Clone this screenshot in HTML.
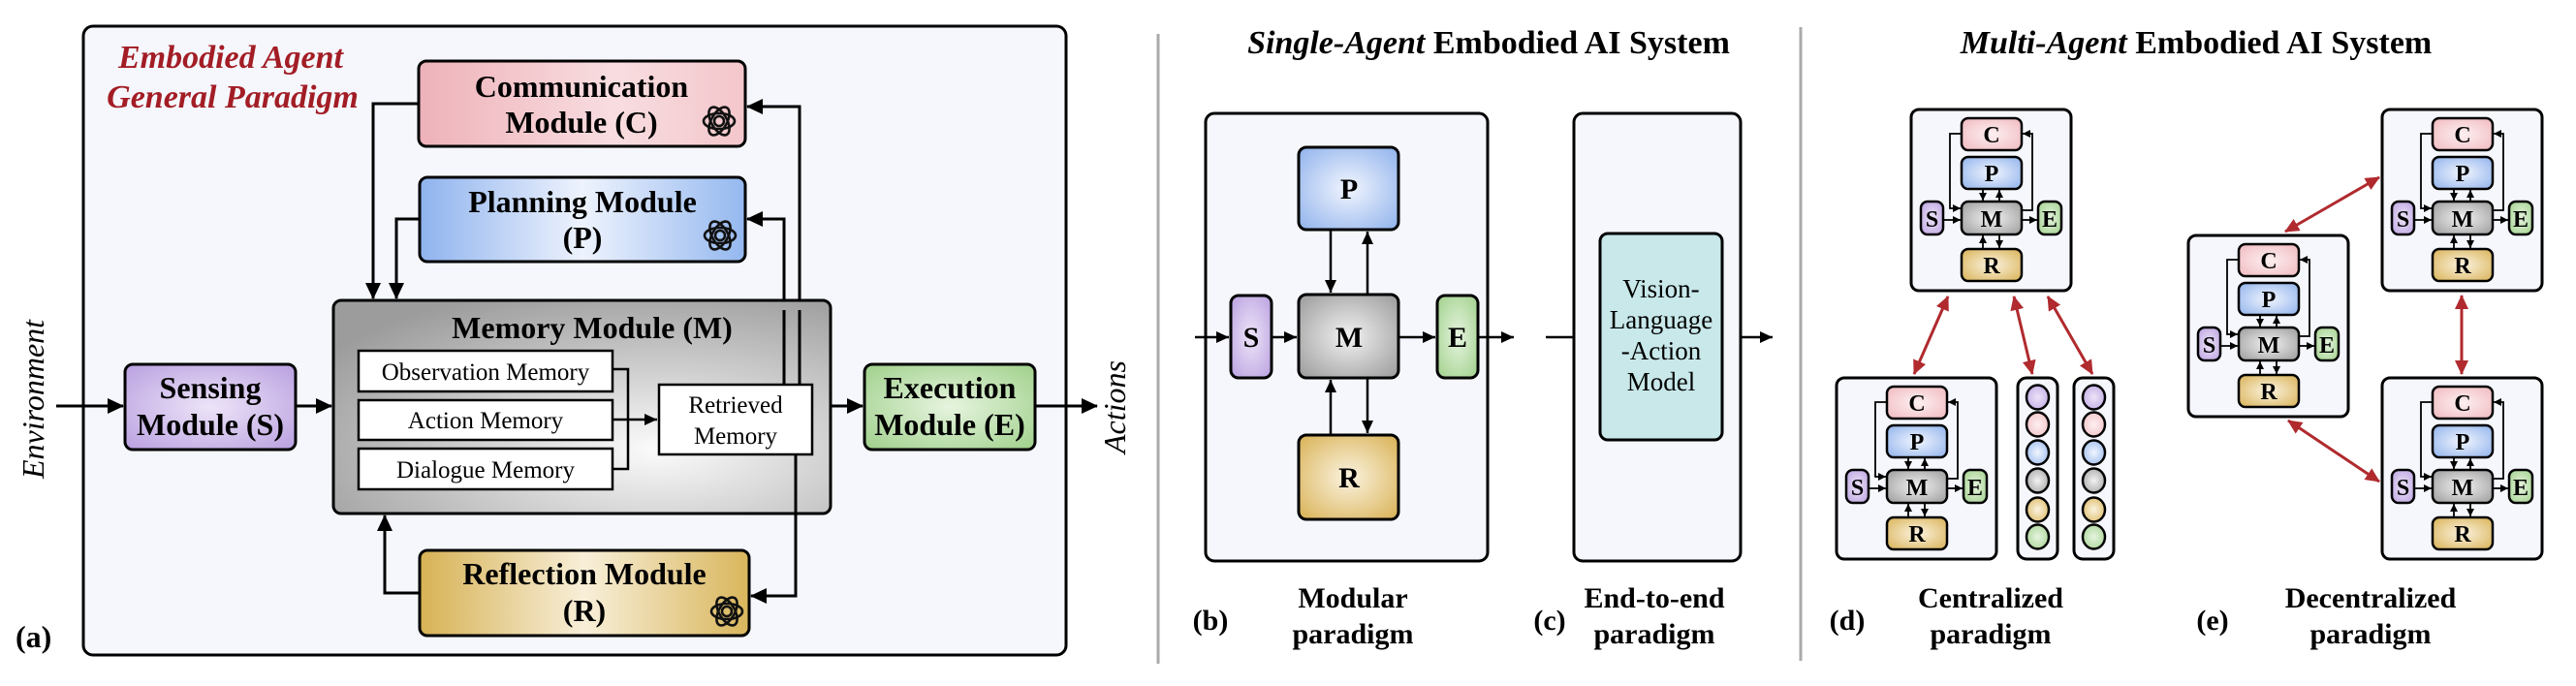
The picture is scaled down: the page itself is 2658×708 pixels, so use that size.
<!DOCTYPE html>
<html><head><meta charset="utf-8"><style>
html,body{margin:0;padding:0;background:#fff;}
svg{display:block;font-family:"Liberation Serif","Times New Roman",serif;}
text{font-family:"Liberation Serif","Times New Roman",serif;}
</style></head><body>
<svg width="2658" height="708" viewBox="0 0 2658 708" xmlns="http://www.w3.org/2000/svg" font-family="Liberation Serif, serif">
<defs>
<marker id="ah" markerUnits="userSpaceOnUse" markerWidth="18" markerHeight="18" refX="16" refY="9" orient="auto"><path d="M0,1 L17,9 L0,17 Z" fill="#000"/></marker>
<marker id="ab" markerUnits="userSpaceOnUse" markerWidth="14" markerHeight="14" refX="13" refY="7" orient="auto"><path d="M0,1 L13,7 L0,13 Z" fill="#000"/></marker>
<marker id="am" markerUnits="userSpaceOnUse" markerWidth="9" markerHeight="9" refX="8" refY="4.5" orient="auto"><path d="M0,0.5 L8,4.5 L0,8.5 Z" fill="#000"/></marker>
<marker id="ar" markerUnits="userSpaceOnUse" markerWidth="16" markerHeight="16" refX="14" refY="8" orient="auto-start-reverse"><path d="M0,1 L15,8 L0,15 Z" fill="#b02a2e"/></marker>
<linearGradient id="gC" x1="0" x2="1"><stop offset="0" stop-color="#eeb2b9"/><stop offset="0.6" stop-color="#f8dde0"/><stop offset="1" stop-color="#f3c6cb"/></linearGradient>
<linearGradient id="gP" x1="0" x2="1"><stop offset="0" stop-color="#8fb3ee"/><stop offset="0.5" stop-color="#eef3fd"/><stop offset="1" stop-color="#94b8ef"/></linearGradient>
<linearGradient id="gR" x1="0" x2="1"><stop offset="0" stop-color="#d7b255"/><stop offset="0.5" stop-color="#f8efd9"/><stop offset="1" stop-color="#d9b65c"/></linearGradient>
<radialGradient id="gM" cx="0.65" cy="0.7" r="0.8"><stop offset="0" stop-color="#fbfbfb"/><stop offset="1" stop-color="#9c9c9c"/></radialGradient>
<radialGradient id="gS" cx="0.5" cy="0.5" r="0.7"><stop offset="0" stop-color="#ede4f8"/><stop offset="1" stop-color="#b9a0e0"/></radialGradient>
<radialGradient id="gE" cx="0.5" cy="0.5" r="0.7"><stop offset="0" stop-color="#e6f4df"/><stop offset="1" stop-color="#9fd08a"/></radialGradient>
<radialGradient id="rC" cx="0.5" cy="0.5" r="0.7"><stop offset="0" stop-color="#fdf0f1"/><stop offset="1" stop-color="#f0b9bf"/></radialGradient>
<radialGradient id="rP" cx="0.5" cy="0.5" r="0.7"><stop offset="0" stop-color="#f1f5fe"/><stop offset="1" stop-color="#8fb2ec"/></radialGradient>
<radialGradient id="rM" cx="0.5" cy="0.5" r="0.7"><stop offset="0" stop-color="#f2f2f2"/><stop offset="1" stop-color="#9a9a9a"/></radialGradient>
<radialGradient id="rR" cx="0.5" cy="0.5" r="0.7"><stop offset="0" stop-color="#fbf3e0"/><stop offset="1" stop-color="#d8b154"/></radialGradient>
</defs>

<!-- ===== Panel (a) ===== -->
<rect x="86" y="27" width="1014" height="649" rx="10" fill="#f5f7fd" stroke="#000" stroke-width="3"/>
<text x="238" y="70" font-size="34" font-weight="bold" font-style="italic" fill="#a31d25" text-anchor="middle">Embodied Agent</text>
<text x="240" y="111" font-size="34" font-weight="bold" font-style="italic" fill="#a31d25" text-anchor="middle">General Paradigm</text>

<g stroke="#000" stroke-width="3" fill="none">
<path d="M432,107 H385 V308" marker-end="url(#ah)"/>
<path d="M433,226 H409 V308" marker-end="url(#ah)"/>
<path d="M825,397 V110 H771" marker-end="url(#ah)"/>
<path d="M809,397 V226 H771" marker-end="url(#ah)"/>
<path d="M821,469 V615 H775" marker-end="url(#ah)"/>
<path d="M433,612 H397 V532" marker-end="url(#ah)"/>
<path d="M58,419 H127" marker-end="url(#ah)"/>
<path d="M305,419 H342" marker-end="url(#ah)"/>
<path d="M857,419 H890" marker-end="url(#ah)"/>
<path d="M1068,419 H1132" marker-end="url(#ah)"/>
</g>

<rect x="432" y="63" width="337" height="88" rx="8" fill="url(#gC)" stroke="#000" stroke-width="3"/>
<text x="600" y="100" font-size="32" font-weight="bold" text-anchor="middle">Communication</text>
<text x="600" y="137" font-size="32" font-weight="bold" text-anchor="middle">Module (C)</text>
<rect x="433" y="183" width="336" height="87" rx="8" fill="url(#gP)" stroke="#000" stroke-width="3"/>
<text x="601" y="219" font-size="32" font-weight="bold" text-anchor="middle">Planning Module</text>
<text x="601" y="256" font-size="32" font-weight="bold" text-anchor="middle">(P)</text>
<rect x="433" y="568" width="340" height="88" rx="8" fill="url(#gR)" stroke="#000" stroke-width="3"/>
<text x="603" y="603" font-size="32" font-weight="bold" text-anchor="middle">Reflection Module</text>
<text x="603" y="641" font-size="32" font-weight="bold" text-anchor="middle">(R)</text>

<g fill="none" stroke="#111" stroke-width="2.6">
<g transform="translate(742,125)"><ellipse rx="16" ry="8"/><ellipse rx="16" ry="8" transform="rotate(60)"/><ellipse rx="16" ry="8" transform="rotate(120)"/><circle r="5"/></g>
<g transform="translate(743,243)"><ellipse rx="16" ry="8"/><ellipse rx="16" ry="8" transform="rotate(60)"/><ellipse rx="16" ry="8" transform="rotate(120)"/><circle r="5"/></g>
<g transform="translate(750,631)"><ellipse rx="16" ry="8"/><ellipse rx="16" ry="8" transform="rotate(60)"/><ellipse rx="16" ry="8" transform="rotate(120)"/><circle r="5"/></g>
</g>

<rect x="344" y="310" width="513" height="220" rx="8" fill="url(#gM)" stroke="#000" stroke-width="3"/>
<text x="611" y="349" font-size="32" font-weight="bold" text-anchor="middle">Memory Module (M)</text>
<g stroke="#000" stroke-width="2.5" fill="#fff">
<rect x="370" y="362" width="262" height="42"/>
<rect x="370" y="413" width="262" height="41"/>
<rect x="370" y="463" width="262" height="42"/>
<rect x="680" y="397" width="158" height="72"/>
</g>
<text x="501" y="392" font-size="25" text-anchor="middle">Observation Memory</text>
<text x="501" y="442" font-size="25" text-anchor="middle">Action Memory</text>
<text x="501" y="493" font-size="25" text-anchor="middle">Dialogue Memory</text>
<text x="759" y="426" font-size="25" text-anchor="middle">Retrieved</text>
<text x="759" y="458" font-size="25" text-anchor="middle">Memory</text>
<g stroke="#000" stroke-width="2.5" fill="none">
<path d="M632,381 H648 V484 H632"/>
<path d="M632,433 H678" marker-end="url(#ab)"/>
</g>
<path d="M825,397 V320" stroke="#000" stroke-width="3"/>
<path d="M809,397 V320" stroke="#000" stroke-width="3"/>
<path d="M821,469 V530" stroke="#000" stroke-width="3"/>

<rect x="129" y="376" width="176" height="88" rx="8" fill="url(#gS)" stroke="#000" stroke-width="3"/>
<text x="217" y="411" font-size="32" font-weight="bold" text-anchor="middle">Sensing</text>
<text x="217" y="449" font-size="32" font-weight="bold" text-anchor="middle">Module (S)</text>
<rect x="892" y="376" width="176" height="88" rx="8" fill="url(#gE)" stroke="#000" stroke-width="3"/>
<text x="980" y="411" font-size="32" font-weight="bold" text-anchor="middle">Execution</text>
<text x="980" y="449" font-size="32" font-weight="bold" text-anchor="middle">Module (E)</text>

<text transform="translate(45,412) rotate(-90)" font-size="32" font-style="italic" text-anchor="middle">Environment</text>
<text transform="translate(1161,420) rotate(-90)" font-size="32" font-style="italic" text-anchor="middle">Actions</text>
<text x="16" y="668" font-size="32" font-weight="bold">(a)</text>

<line x1="1195" y1="35" x2="1195" y2="685" stroke="#aaa" stroke-width="3"/>
<line x1="1858" y1="28" x2="1858" y2="682" stroke="#aaa" stroke-width="3"/>

<!-- ===== Single agent ===== -->
<text x="1536" y="55" font-size="34" font-weight="bold" text-anchor="middle"><tspan font-style="italic">Single-Agent</tspan> Embodied AI System</text>
<rect x="1244" y="117" width="291" height="462" rx="9" fill="#f5f7fd" stroke="#000" stroke-width="3"/>
<g stroke="#000" stroke-width="2.5" fill="none">
<path d="M1373,237 V302" marker-end="url(#ab)"/>
<path d="M1411,304 V239" marker-end="url(#ab)"/>
<path d="M1373,449 V392" marker-end="url(#ab)"/>
<path d="M1411,390 V447" marker-end="url(#ab)"/>
<path d="M1233,348 H1268" marker-end="url(#ab)"/>
<path d="M1312,348 H1338" marker-end="url(#ab)"/>
<path d="M1443,348 H1481" marker-end="url(#ab)"/>
<path d="M1525,348 H1562" marker-end="url(#ab)"/>
<path d="M1595,348 H1649" marker-end="url(#ab)"/>
<path d="M1777,348 H1829" marker-end="url(#ab)"/>
</g>
<rect x="1340" y="152" width="103" height="85" rx="8" fill="url(#rP)" stroke="#000" stroke-width="3"/>
<rect x="1340" y="304" width="103" height="86" rx="8" fill="url(#rM)" stroke="#000" stroke-width="3"/>
<rect x="1340" y="449" width="103" height="87" rx="8" fill="url(#rR)" stroke="#000" stroke-width="3"/>
<rect x="1270" y="305" width="42" height="85" rx="8" fill="url(#gS)" stroke="#000" stroke-width="3"/>
<rect x="1483" y="305" width="42" height="85" rx="8" fill="url(#gE)" stroke="#000" stroke-width="3"/>
<g font-size="30" font-weight="bold" text-anchor="middle">
<text x="1392" y="205">P</text><text x="1392" y="358">M</text><text x="1392" y="503">R</text>
<text x="1291" y="358">S</text><text x="1504" y="358">E</text>
</g>
<rect x="1624" y="117" width="172" height="462" rx="9" fill="#f5f7fd" stroke="#000" stroke-width="3"/>
<rect x="1651" y="241" width="126" height="213" rx="8" fill="#c8e8ea" stroke="#000" stroke-width="3"/>
<g font-size="27" text-anchor="middle">
<text x="1714" y="307">Vision-</text><text x="1714" y="339">Language</text><text x="1714" y="371">-Action</text><text x="1714" y="403">Model</text>
</g>
<g font-size="30" font-weight="bold" text-anchor="middle">
<text x="1396" y="627">Modular</text><text x="1396" y="664">paradigm</text>
<text x="1707" y="627">End-to-end</text><text x="1707" y="664">paradigm</text>
<text x="1249" y="650">(b)</text><text x="1599" y="650">(c)</text>
<text x="2054" y="627">Centralized</text><text x="2054" y="664">paradigm</text>
<text x="2446" y="627">Decentralized</text><text x="2446" y="664">paradigm</text>
<text x="1906" y="650">(d)</text><text x="2283" y="650">(e)</text>
</g>

<!-- ===== Multi agent ===== -->
<text x="2266" y="55" font-size="34" font-weight="bold" text-anchor="middle"><tspan font-style="italic">Multi-Agent</tspan> Embodied AI System</text>

<g transform="translate(1972,113)">
<rect x="0" y="0" width="165" height="187" rx="8" fill="#f5f7fd" stroke="#000" stroke-width="3"/>
<g stroke="#000" stroke-width="1.8" fill="none">
<path d="M52,25 H40 V102 H51" marker-end="url(#am)"/>
<path d="M114,104 H125 V25 H115" marker-end="url(#am)"/>
<path d="M74,82 V94" marker-end="url(#am)"/><path d="M91,95 V83" marker-end="url(#am)"/>
<path d="M74,144 V130" marker-end="url(#am)"/><path d="M91,129 V143" marker-end="url(#am)"/>
<path d="M33,114 H51" marker-end="url(#am)"/><path d="M114,114 H130" marker-end="url(#am)"/>
</g>
<g stroke="#000" stroke-width="2.5">
<rect x="52" y="9" width="62" height="33" rx="7" fill="url(#rC)"/>
<rect x="52" y="49" width="62" height="33" rx="7" fill="url(#rP)"/>
<rect x="52" y="95" width="62" height="34" rx="7" fill="url(#rM)"/>
<rect x="52" y="144" width="62" height="33" rx="7" fill="url(#rR)"/>
<rect x="10" y="95" width="23" height="34" rx="7" fill="url(#gS)"/>
<rect x="131" y="95" width="24" height="34" rx="7" fill="url(#gE)"/>
</g>
<g font-size="24" font-weight="bold" text-anchor="middle">
<text x="83" y="34">C</text><text x="83" y="74">P</text><text x="83" y="121">M</text><text x="83" y="169">R</text>
<text x="21.5" y="121">S</text><text x="143" y="121">E</text>
</g>
</g>

<g transform="translate(1895,390)">
<rect x="0" y="0" width="165" height="187" rx="8" fill="#f5f7fd" stroke="#000" stroke-width="3"/>
<g stroke="#000" stroke-width="1.8" fill="none">
<path d="M52,25 H40 V102 H51" marker-end="url(#am)"/>
<path d="M114,104 H125 V25 H115" marker-end="url(#am)"/>
<path d="M74,82 V94" marker-end="url(#am)"/><path d="M91,95 V83" marker-end="url(#am)"/>
<path d="M74,144 V130" marker-end="url(#am)"/><path d="M91,129 V143" marker-end="url(#am)"/>
<path d="M33,114 H51" marker-end="url(#am)"/><path d="M114,114 H130" marker-end="url(#am)"/>
</g>
<g stroke="#000" stroke-width="2.5">
<rect x="52" y="9" width="62" height="33" rx="7" fill="url(#rC)"/>
<rect x="52" y="49" width="62" height="33" rx="7" fill="url(#rP)"/>
<rect x="52" y="95" width="62" height="34" rx="7" fill="url(#rM)"/>
<rect x="52" y="144" width="62" height="33" rx="7" fill="url(#rR)"/>
<rect x="10" y="95" width="23" height="34" rx="7" fill="url(#gS)"/>
<rect x="131" y="95" width="24" height="34" rx="7" fill="url(#gE)"/>
</g>
<g font-size="24" font-weight="bold" text-anchor="middle">
<text x="83" y="34">C</text><text x="83" y="74">P</text><text x="83" y="121">M</text><text x="83" y="169">R</text>
<text x="21.5" y="121">S</text><text x="143" y="121">E</text>
</g>
</g>

<g transform="translate(2258,243)">
<rect x="0" y="0" width="165" height="187" rx="8" fill="#f5f7fd" stroke="#000" stroke-width="3"/>
<g stroke="#000" stroke-width="1.8" fill="none">
<path d="M52,25 H40 V102 H51" marker-end="url(#am)"/>
<path d="M114,104 H125 V25 H115" marker-end="url(#am)"/>
<path d="M74,82 V94" marker-end="url(#am)"/><path d="M91,95 V83" marker-end="url(#am)"/>
<path d="M74,144 V130" marker-end="url(#am)"/><path d="M91,129 V143" marker-end="url(#am)"/>
<path d="M33,114 H51" marker-end="url(#am)"/><path d="M114,114 H130" marker-end="url(#am)"/>
</g>
<g stroke="#000" stroke-width="2.5">
<rect x="52" y="9" width="62" height="33" rx="7" fill="url(#rC)"/>
<rect x="52" y="49" width="62" height="33" rx="7" fill="url(#rP)"/>
<rect x="52" y="95" width="62" height="34" rx="7" fill="url(#rM)"/>
<rect x="52" y="144" width="62" height="33" rx="7" fill="url(#rR)"/>
<rect x="10" y="95" width="23" height="34" rx="7" fill="url(#gS)"/>
<rect x="131" y="95" width="24" height="34" rx="7" fill="url(#gE)"/>
</g>
<g font-size="24" font-weight="bold" text-anchor="middle">
<text x="83" y="34">C</text><text x="83" y="74">P</text><text x="83" y="121">M</text><text x="83" y="169">R</text>
<text x="21.5" y="121">S</text><text x="143" y="121">E</text>
</g>
</g>

<g transform="translate(2458,113)">
<rect x="0" y="0" width="165" height="187" rx="8" fill="#f5f7fd" stroke="#000" stroke-width="3"/>
<g stroke="#000" stroke-width="1.8" fill="none">
<path d="M52,25 H40 V102 H51" marker-end="url(#am)"/>
<path d="M114,104 H125 V25 H115" marker-end="url(#am)"/>
<path d="M74,82 V94" marker-end="url(#am)"/><path d="M91,95 V83" marker-end="url(#am)"/>
<path d="M74,144 V130" marker-end="url(#am)"/><path d="M91,129 V143" marker-end="url(#am)"/>
<path d="M33,114 H51" marker-end="url(#am)"/><path d="M114,114 H130" marker-end="url(#am)"/>
</g>
<g stroke="#000" stroke-width="2.5">
<rect x="52" y="9" width="62" height="33" rx="7" fill="url(#rC)"/>
<rect x="52" y="49" width="62" height="33" rx="7" fill="url(#rP)"/>
<rect x="52" y="95" width="62" height="34" rx="7" fill="url(#rM)"/>
<rect x="52" y="144" width="62" height="33" rx="7" fill="url(#rR)"/>
<rect x="10" y="95" width="23" height="34" rx="7" fill="url(#gS)"/>
<rect x="131" y="95" width="24" height="34" rx="7" fill="url(#gE)"/>
</g>
<g font-size="24" font-weight="bold" text-anchor="middle">
<text x="83" y="34">C</text><text x="83" y="74">P</text><text x="83" y="121">M</text><text x="83" y="169">R</text>
<text x="21.5" y="121">S</text><text x="143" y="121">E</text>
</g>
</g>

<g transform="translate(2458,390)">
<rect x="0" y="0" width="165" height="187" rx="8" fill="#f5f7fd" stroke="#000" stroke-width="3"/>
<g stroke="#000" stroke-width="1.8" fill="none">
<path d="M52,25 H40 V102 H51" marker-end="url(#am)"/>
<path d="M114,104 H125 V25 H115" marker-end="url(#am)"/>
<path d="M74,82 V94" marker-end="url(#am)"/><path d="M91,95 V83" marker-end="url(#am)"/>
<path d="M74,144 V130" marker-end="url(#am)"/><path d="M91,129 V143" marker-end="url(#am)"/>
<path d="M33,114 H51" marker-end="url(#am)"/><path d="M114,114 H130" marker-end="url(#am)"/>
</g>
<g stroke="#000" stroke-width="2.5">
<rect x="52" y="9" width="62" height="33" rx="7" fill="url(#rC)"/>
<rect x="52" y="49" width="62" height="33" rx="7" fill="url(#rP)"/>
<rect x="52" y="95" width="62" height="34" rx="7" fill="url(#rM)"/>
<rect x="52" y="144" width="62" height="33" rx="7" fill="url(#rR)"/>
<rect x="10" y="95" width="23" height="34" rx="7" fill="url(#gS)"/>
<rect x="131" y="95" width="24" height="34" rx="7" fill="url(#gE)"/>
</g>
<g font-size="24" font-weight="bold" text-anchor="middle">
<text x="83" y="34">C</text><text x="83" y="74">P</text><text x="83" y="121">M</text><text x="83" y="169">R</text>
<text x="21.5" y="121">S</text><text x="143" y="121">E</text>
</g>
</g>

<g stroke="#000" stroke-width="2.5">
<rect x="2082" y="390" width="41" height="187" rx="9" fill="#f5f7fd" stroke-width="3"/>
<rect x="2140" y="390" width="41" height="187" rx="9" fill="#f5f7fd" stroke-width="3"/>
<ellipse cx="2102.5" cy="410" rx="11.5" ry="12.5" fill="url(#gS)"/>
<ellipse cx="2102.5" cy="438" rx="11.5" ry="12.5" fill="url(#rC)"/>
<ellipse cx="2102.5" cy="467" rx="11.5" ry="12.5" fill="url(#rP)"/>
<ellipse cx="2102.5" cy="496" rx="11.5" ry="12.5" fill="url(#rM)"/>
<ellipse cx="2102.5" cy="526" rx="11.5" ry="12.5" fill="url(#rR)"/>
<ellipse cx="2102.5" cy="554" rx="11.5" ry="12.5" fill="url(#gE)"/>
<ellipse cx="2160.5" cy="410" rx="11.5" ry="12.5" fill="url(#gS)"/>
<ellipse cx="2160.5" cy="438" rx="11.5" ry="12.5" fill="url(#rC)"/>
<ellipse cx="2160.5" cy="467" rx="11.5" ry="12.5" fill="url(#rP)"/>
<ellipse cx="2160.5" cy="496" rx="11.5" ry="12.5" fill="url(#rM)"/>
<ellipse cx="2160.5" cy="526" rx="11.5" ry="12.5" fill="url(#rR)"/>
<ellipse cx="2160.5" cy="554" rx="11.5" ry="12.5" fill="url(#gE)"/>
</g>

<g stroke="#b02a2e" stroke-width="3" fill="none">
<path d="M2010,306 L1975,386" marker-start="url(#ar)" marker-end="url(#ar)"/>
<path d="M2078,306 L2097,386" marker-start="url(#ar)" marker-end="url(#ar)"/>
<path d="M2113,306 L2159,386" marker-start="url(#ar)" marker-end="url(#ar)"/>
<path d="M2358,239 L2455,183" marker-start="url(#ar)" marker-end="url(#ar)"/>
<path d="M2540,305 L2540,386" marker-start="url(#ar)" marker-end="url(#ar)"/>
<path d="M2361,434 L2455,497" marker-start="url(#ar)" marker-end="url(#ar)"/>
</g>
</svg>
</body></html>
